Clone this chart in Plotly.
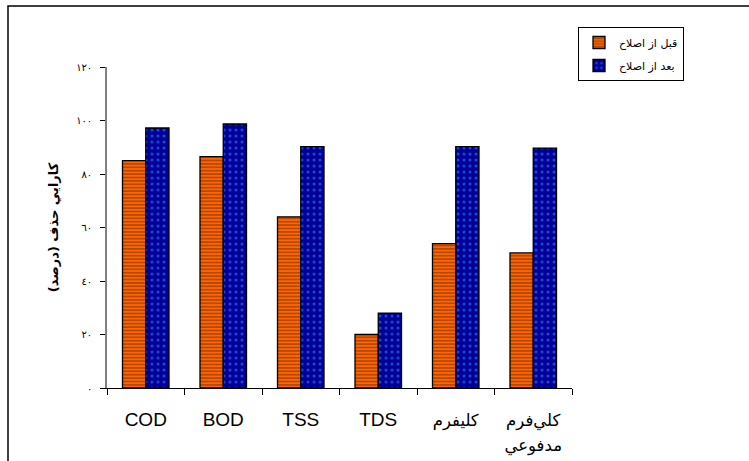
import plotly.graph_objects as go

categories = ["COD", "BOD", "TSS", "TDS", "كليفرم", "كلي‌فرم مدفوعي"]
tick_labels = ["COD", "BOD", "TSS", "TDS",
               "<span style='font-size:16.5px'>كليفرم</span>",
               "<span style='font-size:16.5px'>كلي‌فرم</span><br><span style='font-size:16.5px'>مدفوعي</span>"]
before_vals = [85, 86.5, 64, 20, 54, 50.5]
after_vals = [97.2, 98.7, 90.2, 28, 90.2, 89.7]
series_names = ["قبل از اصلاح", "بعد از اصلاح"]
y_tickvals = [0, 20, 40, 60, 80, 100, 120]
y_ticktext = ["٠", "٢٠", "٤٠", "٦٠", "٨٠", "١٠٠", "١٢٠"]
y_title = "كارايي حذف (درصد)"

W, H = 749, 461
L, R, T, B = 107, 177, 67, 73
pw, ph = W - L - R, H - T - B

fig = go.Figure()
fig.add_trace(go.Bar(
    x=categories, y=before_vals, name=series_names[0], legendgroup="a",
    marker=dict(color="#FF6600", line=dict(color="black", width=1.3),
                pattern=dict(shape="-", bgcolor="#FF6600", fgcolor="#6B2A00",
                             size=3.4, solidity=0.5)),
))
fig.add_trace(go.Bar(
    x=categories, y=after_vals, name=series_names[1], legendgroup="b",
    marker=dict(color="#000099", line=dict(color="black", width=1.3),
                pattern=dict(shape=".", bgcolor="#000099", fgcolor="#2A9BFF",
                             size=6, solidity=0.2)),
))

fig.update_layout(
    width=W, height=H,
    margin=dict(l=L, r=R, t=T, b=B, pad=0, autoexpand=False),
    paper_bgcolor="white", plot_bgcolor="white",
    barmode="group", bargap=0.4, bargroupgap=0,
    font=dict(family="Liberation Sans, DejaVu Sans, Arial", color="black"),
    showlegend=True,
    legend=dict(x=(578 - L) / pw, y=(388 - 27) / ph, xanchor="left", yanchor="top",
                bordercolor="black", borderwidth=1, bgcolor="white",
                font=dict(size=11, family="DejaVu Sans"), itemwidth=30,
                tracegroupgap=4),
    xaxis=dict(showline=True, linecolor="black", linewidth=1,
               ticks="outside", tickson="boundaries", ticklen=6, tickcolor="black",
               tickvals=categories, ticktext=tick_labels,
               tickfont=dict(size=19, family="Liberation Sans, DejaVu Sans"),
               ticklabelstandoff=14,
               showgrid=False, zeroline=False),
    yaxis=dict(range=[0, 120], tickvals=y_tickvals, ticktext=y_ticktext,
               showline=True, linecolor="#808080", linewidth=1.5,
               ticks="outside", ticklen=5, tickcolor="black",
               tickfont=dict(size=10, family="DejaVu Sans"),
               ticklabelstandoff=6,
               showgrid=False, zeroline=False,
               title=dict(text="<b>" + y_title + "</b>",
                          font=dict(size=13, family="DejaVu Sans"), standoff=15)),
)

# outer chart frame
fig.add_shape(type="rect", xref="paper", yref="paper",
              x0=(8 - L) / pw, x1=(760 - L) / pw,
              y0=(388 - 470) / ph, y1=(388 - 6) / ph,
              line=dict(color="black", width=1.5), fillcolor="rgba(0,0,0,0)",
              layer="below")

fig.write_html("out.html", config={"displayModeBar": False},
               post_script="document.body.style.margin='0';document.body.style.overflow='hidden';")
